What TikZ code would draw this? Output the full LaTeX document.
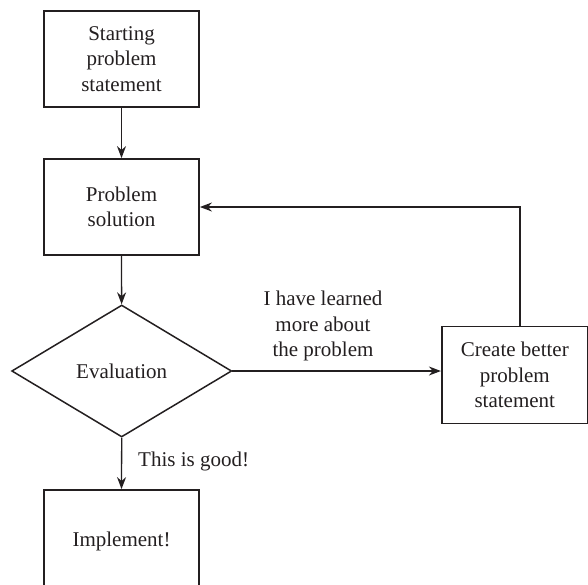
\documentclass[tikz,border=0pt]{standalone}
\usepackage{fontspec}
\setmainfont{Liberation Serif}
\usetikzlibrary{shapes.geometric,arrows.meta}
\definecolor{ink}{HTML}{231F20}
\begin{document}
\begin{tikzpicture}[x=1pt,y=-1pt,
  every node/.style={text=ink,font=\fontsize{21}{25.5}\selectfont},
  stepbox/.style={draw=ink,line width=1.8pt,minimum width=155pt,minimum height=96pt,align=center,inner sep=0pt},
  decide/.style={draw=ink,line width=1.5pt,diamond,minimum width=220pt,minimum height=132pt,inner sep=0pt,aspect=1.667},
  flow/.style={draw=ink,line width=1.3pt,-{Stealth[length=12pt,width=9pt]}},
  lbl/.style={align=center,inner sep=0pt}]
\useasboundingbox (0,0) rectangle (588,584);
\clip (0,0) rectangle (588,584);
\node[stepbox] (start) at (121.5,59) {Starting\\problem\\statement};
\node[stepbox] (sol) at (121.5,207) {Problem\\solution};
\node[decide] (eval) at (121.7,371) {Evaluation};
\node[stepbox,minimum width=146pt,minimum height=97pt] (better) at (514.8,375) {Create better\\problem\\statement};
\node[stepbox,minimum height=102pt] (impl) at (121.5,541) {Implement!};
\coordinate (up) at (520,326.7);
\coordinate (corner) at (520,207);
\draw[flow] (start) -- (sol);
\draw[flow] (sol) -- (eval);
\draw[flow] (eval.south) -- (impl.north);
\draw[flow] (eval.east) -- (eval.east -| better.west);
\draw[flow] (up) -- (corner) -- (sol.east);
\node[lbl] (learn) at (323,326) {I have learned\\more about\\the problem};
\node[lbl,anchor=west] (good) at (138,461) {This is good!};
\end{tikzpicture}
\end{document}
